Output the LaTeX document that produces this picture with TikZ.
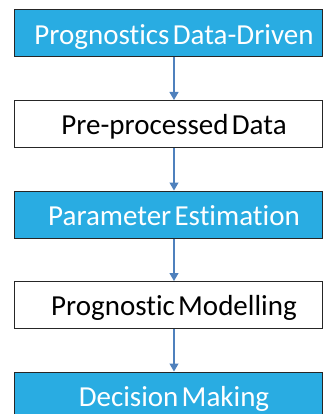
\documentclass[tikz,border=0pt]{standalone}
\usepackage{fontspec}
\setmainfont[WordSpace=0.5,Ligatures=NoCommon]{Carlito}
\usetikzlibrary{arrows.meta}
\definecolor{boxblue}{RGB}{41,172,226}
\definecolor{arrowblue}{RGB}{79,129,189}
\tikzset{
  box/.style={draw=black!85, line width=1pt},
  bluebox/.style={box, fill=boxblue},
  whitebox/.style={box, fill=white},
  lab/.style={inner sep=0pt, anchor=base, font=\fontsize{29}{34}\selectfont},
  wlab/.style={lab, text=white},
  blab/.style={lab, text=black},
  conn/.style={draw=arrowblue, line width=1.2pt, -{Triangle[width=9pt,length=8pt]}}
}
\begin{document}
\begin{tikzpicture}[x=1pt,y=1pt]
\useasboundingbox (0,0) rectangle (323,-414);
\clip (0,0) rectangle (323,-414);
\path[bluebox]  (14.5,-10)    rectangle (322.5,-57);
\path[whitebox] (14.5,-100.5) rectangle (322.5,-147.5);
\path[bluebox]  (14.5,-191)   rectangle (322.5,-238);
\path[whitebox] (14.5,-281.5) rectangle (322.5,-328.5);
\path[bluebox]  (14.5,-372)   rectangle (322.5,-419);
\node[wlab] (l1) at (174,-44.4)  {Prognostics Data-Driven};
\node[blab] (l2) at (174,-134.9) {Pre-processed Data};
\node[wlab] (l3) at (174,-225.4) {Parameter Estimation};
\node[blab] (l4) at (174,-315.9) {Prognostic Modelling};
\node[wlab] (l5) at (174,-406.4) {Decision Making};
\coordinate (b1) at (174,-57.5);
\coordinate (t2) at (174,-100);
\coordinate (b2) at (174,-148);
\coordinate (t3) at (174,-190.5);
\coordinate (b3) at (174,-238.5);
\coordinate (t4) at (174,-281);
\coordinate (b4) at (174,-329);
\coordinate (t5) at (174,-371.5);
\draw[conn] (b1) -- (t2);
\draw[conn] (b2) -- (t3);
\draw[conn] (b3) -- (t4);
\draw[conn] (b4) -- (t5);
\end{tikzpicture}
\end{document}
